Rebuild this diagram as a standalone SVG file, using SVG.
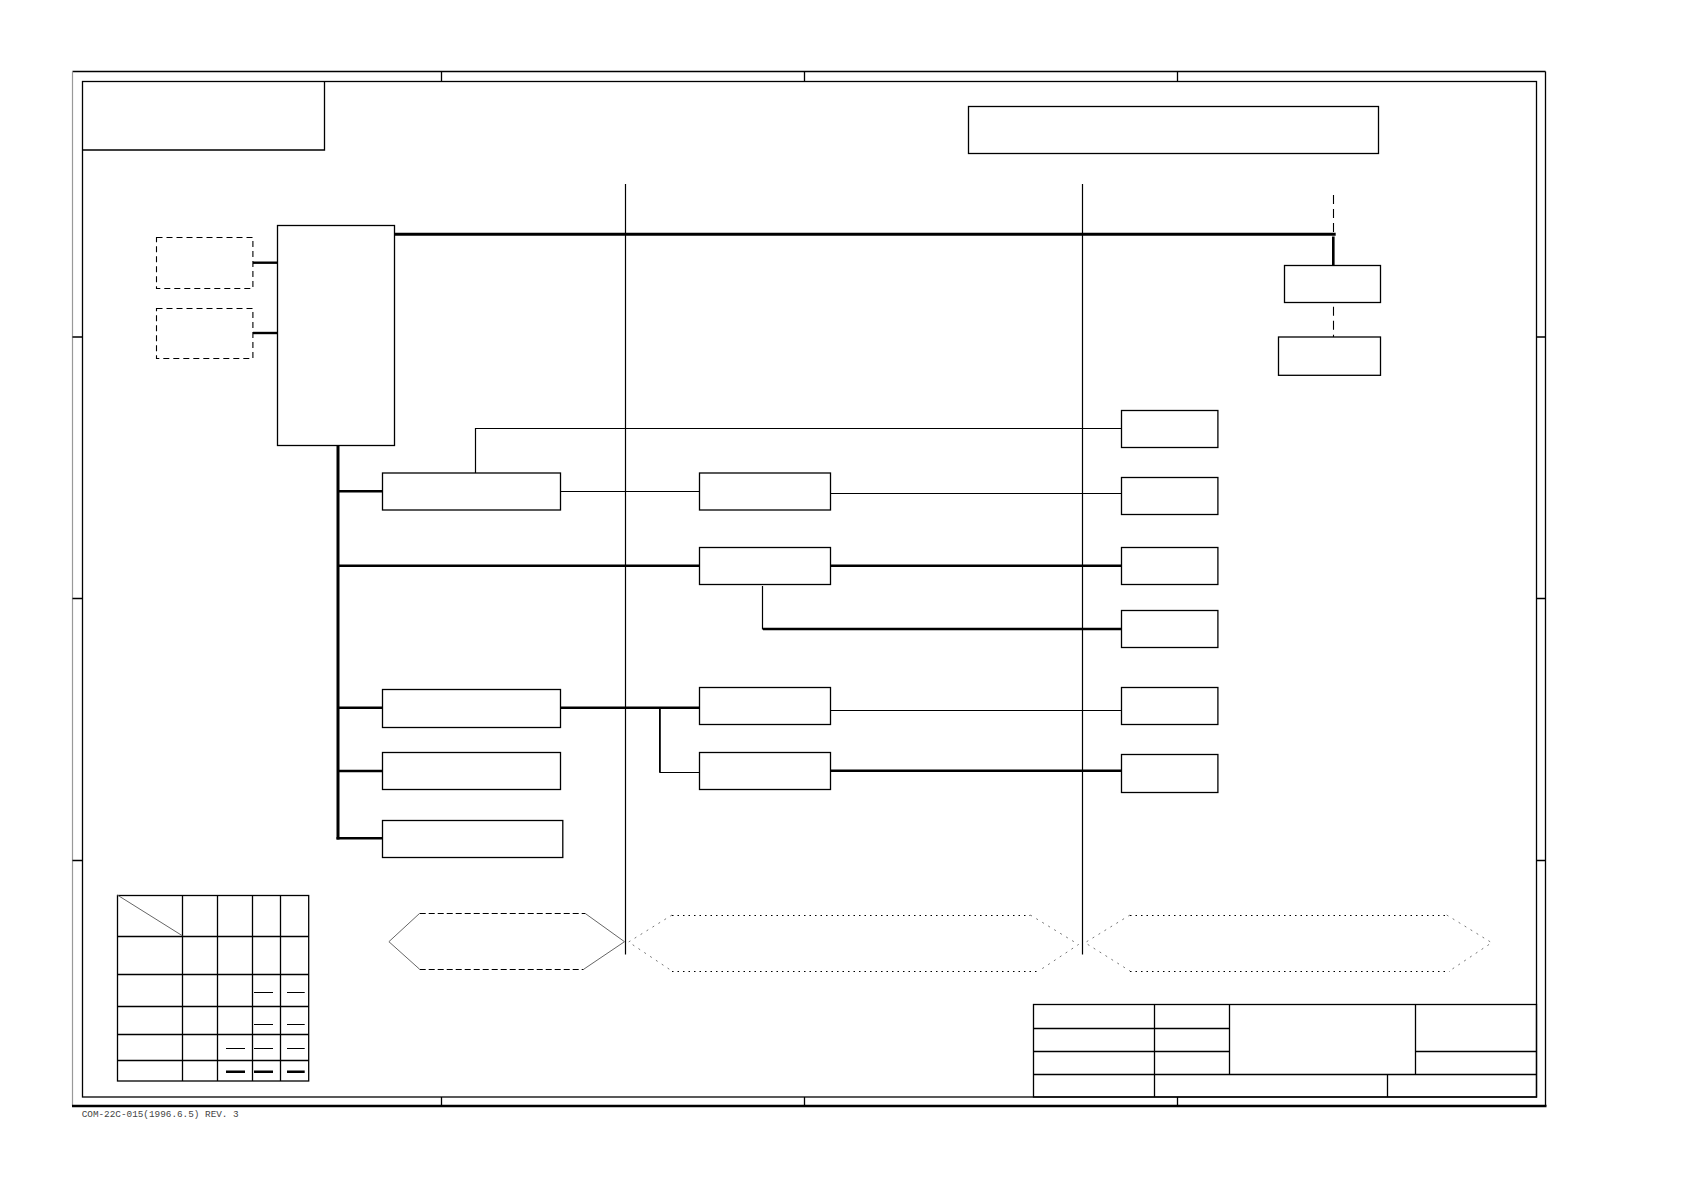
<svg xmlns="http://www.w3.org/2000/svg" width="1684" height="1190" viewBox="0 0 1684 1190">
<style>
.b{fill:#fff;stroke:#000;stroke-width:1.3}
.d{fill:#fff;stroke:#000;stroke-width:1.1;stroke-dasharray:6,4}
.t{fill:none;stroke:#000;stroke-width:1.2}
.k{fill:none;stroke:#000;stroke-width:2.4}
.g{fill:none;stroke:#666;stroke-width:1}
.f{fill:none;stroke:#000;stroke-width:1.3}
</style>
<rect width="1684" height="1190" fill="#fff"/>
<g id="frame">
<line x1="72.5" y1="71.5" x2="1545.5" y2="71.5" class="f"/>
<line x1="1545.5" y1="71.5" x2="1545.5" y2="1106" class="f"/>
<line x1="72.5" y1="71.5" x2="72.5" y2="1106" stroke="#999" stroke-width="1.2"/>
<line x1="72" y1="1106" x2="1546.5" y2="1106" stroke="#000" stroke-width="2.6"/>
<rect x="82.5" y="81.5" width="1454" height="1015.5" class="f"/>
<path d="M441.5 71.5V81.5M804.5 71.5V81.5M1177.5 71.5V81.5M441.5 1097V1106M804.5 1097V1106M1177.5 1097V1106M72.5 337H82.5M72.5 598.5H82.5M72.5 860.5H82.5M1536.5 337H1545.5M1536.5 598.5H1545.5M1536.5 860.5H1545.5" class="f"/>
<path d="M82.5 150H324.5V81.5" class="f"/>
<text x="81.7" y="1116.5" font-family="Liberation Mono, monospace" font-size="9.4" fill="#444" textLength="157" lengthAdjust="spacingAndGlyphs">COM-22C-015(1996.6.5) REV. 3</text>
</g>
<g id="title-box"><rect x="968.5" y="106.5" width="410" height="47" class="b"/></g>
<g id="dividers">
<line x1="625.5" y1="184" x2="625.5" y2="954.5" class="t"/>
<line x1="1082.5" y1="184" x2="1082.5" y2="954.5" class="t"/>
</g>
<g id="connectors">
<line x1="394.3" y1="234.3" x2="1335.7" y2="234.3" stroke="#000" stroke-width="3"/>
<line x1="1333.5" y1="195" x2="1333.5" y2="234" stroke="#000" stroke-width="1.1" stroke-dasharray="9,5"/>
<line x1="1333.3" y1="236.5" x2="1333.3" y2="266.5" stroke="#000" stroke-width="2.6"/>
<line x1="1333.5" y1="306.7" x2="1333.5" y2="337" stroke="#000" stroke-width="1.1" stroke-dasharray="9,5"/>
<line x1="253" y1="262.7" x2="277.3" y2="262.7" class="k"/>
<line x1="252.7" y1="333" x2="277.3" y2="333" class="k"/>
<line x1="338" y1="445.3" x2="338" y2="839.5" stroke="#000" stroke-width="3"/>
<line x1="338" y1="491.3" x2="382.4" y2="491.3" class="k"/>
<line x1="338" y1="565.7" x2="699.3" y2="565.7" class="k"/>
<line x1="338" y1="707.7" x2="382.4" y2="707.7" class="k"/>
<line x1="338" y1="771" x2="382.4" y2="771" class="k"/>
<line x1="336.5" y1="838.3" x2="382.4" y2="838.3" class="k"/>
<path d="M475.5 473V428.5H1121.3" class="t"/>
<line x1="560.4" y1="491.5" x2="699.3" y2="491.5" class="t"/>
<line x1="830.5" y1="493.5" x2="1121.3" y2="493.5" class="t"/>
<line x1="830.5" y1="565.7" x2="1121.3" y2="565.7" class="k"/>
<path d="M762.5 586V629H1121.3" class="t"/>
<line x1="763" y1="629" x2="1121.3" y2="629" class="k"/>
<line x1="560.4" y1="707.7" x2="699.3" y2="707.7" class="k"/>
<line x1="659.9" y1="707.7" x2="659.9" y2="772.7" stroke="#000" stroke-width="1.8"/>
<line x1="659.9" y1="772.5" x2="699.3" y2="772.5" class="t"/>
<line x1="830.5" y1="710.5" x2="1121.3" y2="710.5" class="t"/>
<line x1="830.5" y1="770.7" x2="1121.3" y2="770.7" class="k"/>
</g>
<g id="main"><rect x="277.5" y="225.5" width="117" height="220" class="b"/></g>
<g id="opt1"><rect x="156.5" y="237.5" width="96.4" height="51" class="d"/></g>
<g id="opt2"><rect x="156.5" y="308.5" width="96.4" height="50" class="d"/></g>
<g id="top-a"><rect x="1284.5" y="265.5" width="96" height="37" class="b"/></g>
<g id="top-b"><rect x="1278.5" y="337" width="102" height="38.3" class="b"/></g>
<g id="r1"><rect x="382.5" y="473" width="178" height="37" class="b"/></g>
<g id="r2"><rect x="382.5" y="689.5" width="178" height="38" class="b"/></g>
<g id="r3"><rect x="382.5" y="752.5" width="178" height="37" class="b"/></g>
<g id="r4"><rect x="382.5" y="820.5" width="180.3" height="37" class="b"/></g>
<g id="m1"><rect x="699.5" y="473" width="131" height="37" class="b"/></g>
<g id="m2"><rect x="699.5" y="547.5" width="131" height="37" class="b"/></g>
<g id="m3"><rect x="699.5" y="687.5" width="131" height="37" class="b"/></g>
<g id="m4"><rect x="699.5" y="752.5" width="131" height="37" class="b"/></g>
<g id="c1"><rect x="1121.5" y="410.5" width="96.4" height="37" class="b"/></g>
<g id="c2"><rect x="1121.5" y="477.5" width="96.4" height="37" class="b"/></g>
<g id="c3"><rect x="1121.5" y="547.5" width="96.4" height="37" class="b"/></g>
<g id="c4"><rect x="1121.5" y="610.5" width="96.4" height="37" class="b"/></g>
<g id="c5"><rect x="1121.5" y="687.5" width="96.4" height="37" class="b"/></g>
<g id="c6"><rect x="1121.5" y="754.5" width="96.4" height="38" class="b"/></g>
<g id="hex1">
<path d="M419.7 913.5H585M419.7 969.5H583.6" stroke="#000" stroke-width="1.1" stroke-dasharray="6,3" fill="none"/>
<path d="M419.7 913.3L388.9 941.7L419.7 969.3M585 913.3L624.5 941.7L583.6 969.3" class="g"/>
</g>
<g id="hex2">
<path d="M672 915.5H1030.3M672 971.5H1038.6" stroke="#000" stroke-width="1.1" stroke-dasharray="1.5,4" fill="none"/>
<path d="M672 915L628.6 942L672 971M1030.3 915L1078.5 944.5L1038.6 971" stroke="#777" stroke-width="1" stroke-dasharray="2,5" fill="none"/>
</g>
<g id="hex3">
<path d="M1130 915.5H1446.7M1130 971.5H1449.3" stroke="#000" stroke-width="1.1" stroke-dasharray="1.5,4" fill="none"/>
<path d="M1130 915L1085 942.7L1130 971M1446.7 915L1491.7 942.7L1449.3 971" stroke="#777" stroke-width="1" stroke-dasharray="2,5" fill="none"/>
</g>
<g id="legend">
<rect x="117.5" y="895.5" width="191.2" height="185.5" class="b"/>
<path d="M182.5 895V1081M217.5 895V1081M252.5 895V1081M280.5 895V1081M117.3 936.5H308.7M117.3 974.5H308.7M117.3 1006.5H308.7M117.3 1034.5H308.7M117.3 1060.5H308.7" class="f"/>
<line x1="117.3" y1="895" x2="182.3" y2="935.7" class="g"/>
<path d="M254 992.5H273M287 992.5H304.7M254 1024.5H273M287 1024.5H304.7M226 1048.5H245M254 1048.5H273M287 1048.5H304.7" class="t"/>
<path d="M226 1071.7H245M254 1071.7H273M287 1071.7H304.7" class="k"/>
</g>
<g id="title-block">
<rect x="1033.5" y="1004.5" width="503" height="92.5" class="f"/>
<path d="M1154.5 1004.3V1097M1229.5 1004.3V1074M1415.5 1004.3V1074M1387.5 1074V1097M1033.3 1028.5H1229.4M1033.3 1051.5H1229.4M1415.3 1051.5H1536.3M1033.3 1074.5H1536.3" class="f"/>
</g>
</svg>
